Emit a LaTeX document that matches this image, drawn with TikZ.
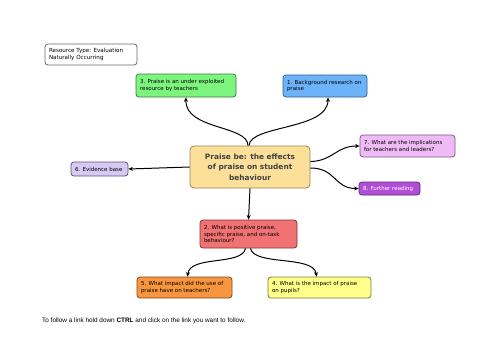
\documentclass[tikz,border=0pt]{standalone}
\usepackage{fontspec}
\setmainfont{DejaVu Sans}
\newfontfamily\footfont{Liberation Sans}
\usetikzlibrary{arrows.meta}
\definecolor{cgreen}{HTML}{7DF47D}\definecolor{dgreen}{HTML}{3E7A3E}
\definecolor{cblue}{HTML}{6DB3FA}\definecolor{dblue}{HTML}{35608A}
\definecolor{clav}{HTML}{D8C8F4}\definecolor{dlav}{HTML}{5E5078}
\definecolor{ccen}{HTML}{FCE09A}\definecolor{dcen}{HTML}{9A8458}
\definecolor{cpink}{HTML}{EEBBF7}\definecolor{dpink}{HTML}{7E5A8A}
\definecolor{cpurp}{HTML}{B14ED8}\definecolor{dpurp}{HTML}{5E2A72}
\definecolor{cred}{HTML}{F07272}\definecolor{dred}{HTML}{7A3535}
\definecolor{corange}{HTML}{F8963F}\definecolor{dorange}{HTML}{7A4A20}
\definecolor{cyellow}{HTML}{FFFF8A}\definecolor{dyellow}{HTML}{7A7A40}
\tikzset{
  box/.style n args={4}{draw=#4, fill=#3, line width=0.8pt, rounded corners=3pt,
    inner xsep=4pt, inner ysep=0pt, text width=#1-8pt, minimum height=#2,
    align=flush left, font=\fontsize{5.5}{6.8}\selectfont},
  link/.style={line width=1pt, -{Stealth[length=4.5pt,width=4pt]}},
}
\begin{document}
\begin{tikzpicture}[x=1pt,y=-1pt]
\useasboundingbox[fill=white] (0,0) rectangle (500,354);
\node[box={92pt}{21pt}{white}{black!60}, font=\fontsize{5.6}{7}\selectfont] (res) at (91,54.5) {Resource Type: Evaluation\\Naturally Occurring};
\node[box={100pt}{23pt}{cgreen}{dgreen}] (b3) at (186,85.5) {3. Praise is an under exploited\\resource by teachers};
\node[box={84pt}{22pt}{cblue}{dblue}] (b1) at (325,86) {1. Background research on\\praise};
\node[box={57pt}{14pt}{clav}{dlav}] (b6) at (99.5,169) {6. Evidence base};
\node[draw=dcen, fill=ccen, line width=0.8pt, rounded corners=4pt, minimum width=120pt, minimum height=42pt,
  align=center, inner sep=0pt, text=black!75,
  font=\fontsize{7.4}{10.6}\selectfont\bfseries] (c) at (250,167) {Praise be: the effects\\of praise on student\\behaviour};
\node[box={95pt}{22pt}{cpink}{dpink}] (b7) at (407.5,146) {7. What are the implications\\for teachers and leaders?};
\node[box={61pt}{13pt}{cpurp}{dpurp}, text=white] (b8) at (389.5,188.5) {8. Further reading};
\node[box={97pt}{28pt}{cred}{dred}] (b2) at (248.5,234) {2. What is positive praise,\\specific praise, and on-task\\behaviour?};
\node[box={95pt}{21pt}{corange}{dorange}] (b5) at (184.5,287.5) {5. What impact did the use of\\praise have on teachers?};
\node[box={103pt}{21pt}{cyellow}{dyellow}] (b4) at (319.5,287.5) {4. What is the impact of praise\\on pupils?};
\node[anchor=west, inner sep=0pt, font=\footfont\fontsize{6.4}{7.5}\selectfont] (foot) at (42,321) {To follow a link hold down \textbf{CTRL} and click on the link you want to follow.};
% connectors
\draw[link] ([xshift=-2pt]c.north) .. controls (248,125) and (185,130) .. (b3.south);
\draw[link] ([xshift=-1pt]c.north) .. controls (250,125) and (328,130) .. ([xshift=3pt]b1.south);
\draw[link] (c.west) -- (b6.east);
\draw[link] ([yshift=5.5pt]c.east) .. controls (333,161) and (336,146) .. (b7.west);
\draw[link] ([yshift=-1pt]c.east) .. controls (336,168) and (334,188.5) .. (b8.west);
\draw[link] (c.south) -- (b2.north);
\draw[link] ([xshift=-3pt]b2.south) .. controls (242,266) and (190,255) .. ([xshift=3pt]b5.north);
\draw[link] ([xshift=2pt]b2.south) .. controls (254,266) and (314,255) .. ([xshift=-3pt]b4.north);
\end{tikzpicture}
\end{document}
